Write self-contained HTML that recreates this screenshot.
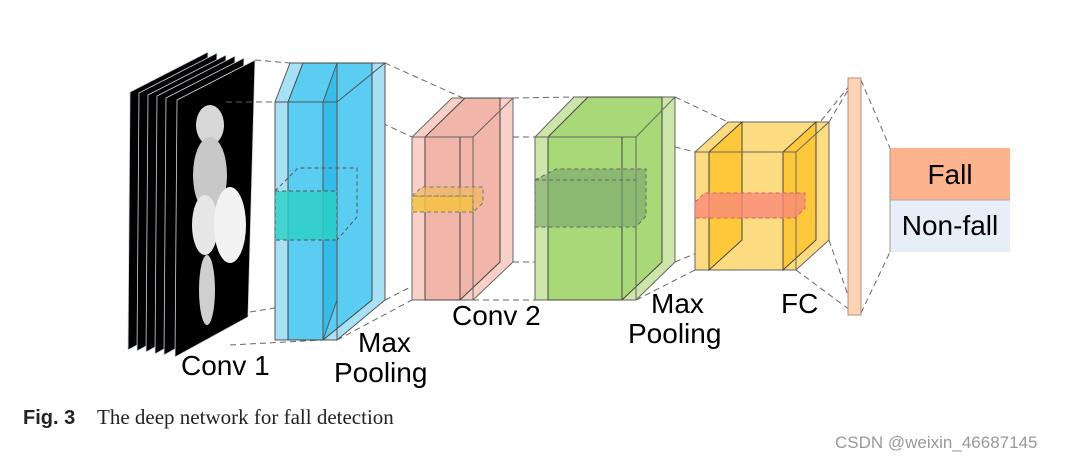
<!DOCTYPE html>
<html><head><meta charset="utf-8"><style>
html,body{margin:0;padding:0;background:#fff;width:1081px;height:462px;overflow:hidden}
svg{display:block}
text{font-family:"Liberation Sans",Arial,sans-serif}
</style></head><body>
<svg width="1081" height="462" viewBox="0 0 1081 462" xmlns="http://www.w3.org/2000/svg">
<defs>
<radialGradient id="g" cx="0.5" cy="0.5" r="0.5"><stop offset="0" stop-color="#eee"/><stop offset="1" stop-color="#bbb"/></radialGradient>
</defs>
<!-- image stack -->
<g stroke="#cfd8e0" stroke-width="0.8">
<polygon points="130,92 208,52 201,310 128,350" fill="#000"/>
<polygon points="139,93 217,53 210,311 137,351" fill="#000"/>
<polygon points="148,95 226,55 219,312 146,352" fill="#000"/>
<polygon points="157,96 235,56 228,313 155,354" fill="#000"/>
<polygon points="166,98 244,58 237,315 164,355" fill="#000"/>
<polygon points="177,100 255,60 248,317 175,357" fill="#000"/>
</g>
<g fill="#d8d8d8">
<ellipse cx="210" cy="125" rx="14" ry="20"/>
<ellipse cx="210" cy="175" rx="17" ry="38" fill="#c8c8c8"/>
<ellipse cx="205" cy="225" rx="13" ry="30" fill="#e6e6e6"/>
<ellipse cx="230" cy="225" rx="16" ry="38" fill="#f2f2f2"/>
<ellipse cx="207" cy="290" rx="8" ry="35" fill="#cfcfcf"/>
</g>
<!-- dashed connectors -->
<g stroke="#666" stroke-width="1" stroke-dasharray="6,4" fill="none">
<line x1="255" y1="60" x2="290" y2="63"/>
<line x1="226" y1="102" x2="275" y2="102"/>
<line x1="250" y1="312" x2="323" y2="300"/>
<line x1="230" y1="345" x2="323" y2="340"/>
<line x1="385" y1="63" x2="463" y2="98"/>
<line x1="337" y1="102" x2="412" y2="137"/>
<line x1="337" y1="340" x2="412" y2="300"/>
<line x1="385" y1="300" x2="460" y2="262"/>
<line x1="513" y1="98" x2="574" y2="97"/>
<line x1="473" y1="137" x2="535" y2="137"/>
<line x1="473" y1="300" x2="535" y2="300"/>
<line x1="513" y1="262" x2="574" y2="262"/>
<line x1="675" y1="97" x2="728" y2="122"/>
<line x1="636" y1="137" x2="695" y2="152"/>
<line x1="636" y1="300" x2="695" y2="270"/>
<line x1="675" y1="262" x2="728" y2="240"/>
<line x1="829" y1="122" x2="854" y2="80"/>
<line x1="796" y1="152" x2="854" y2="80"/>
<line x1="796" y1="270" x2="854" y2="313"/>
<line x1="829" y1="240" x2="854" y2="313"/>
<line x1="861" y1="80" x2="890" y2="148"/>
<line x1="861" y1="313" x2="890" y2="252"/>
</g>
<!-- Blue block -->
<g stroke="#555" stroke-width="1">
<polygon points="275,102 290,63 385,63 385,300 337,340 275,340" fill="#a8e0f6"/>
<polygon points="288,102 303,63 372,63 372,300 323,340 288,340" fill="#5bcdf2" stroke="#444"/>
<polygon points="323,102 337,63 337,300 323,340" fill="#35bde9"/>
<line x1="275" y1="102" x2="337" y2="102"/>
<line x1="337" y1="102" x2="385" y2="63"/>
<line x1="337" y1="102" x2="337" y2="340"/>
</g>
<g stroke="#555" stroke-dasharray="4,3" fill="none">
<polygon points="275,191 337,191 337,240 275,240" fill="#2acfc4" fill-opacity="0.8"/>
<polyline points="275,191 298,168 357,168 357,217 337,240"/>
</g>
<!-- Pink block -->
<g stroke="#666" stroke-width="1">
<polygon points="412,137 452,98 513,98 513,262 473,300 412,300" fill="#f9d0c8"/>
<polygon points="425,137 465,98 500,98 500,262 460,300 425,300" fill="#f2b5a9" stroke="#444"/>
<line x1="412" y1="137" x2="473" y2="137"/>
<line x1="473" y1="137" x2="513" y2="98"/>
<line x1="473" y1="137" x2="473" y2="300"/>
<line x1="460" y1="137" x2="460" y2="300" stroke="#444"/>
</g>
<g stroke="#777" stroke-dasharray="4,3">
<polygon points="412,196 473,196 473,212 412,212" fill="#f5c242" fill-opacity="0.85"/>
<polygon points="412,196 422,187 483,187 483,203 473,212 473,196" fill="#f0b860" fill-opacity="0.7"/>
</g>
<!-- Green block -->
<g stroke="#666" stroke-width="1">
<polygon points="535,137 574,97 675,97 675,262 636,300 535,300" fill="#cbe6a8"/>
<polygon points="548,137 588,97 662,97 662,262 622,300 548,300" fill="#a8d878" stroke="#444"/>
<line x1="535" y1="137" x2="636" y2="137"/>
<line x1="636" y1="137" x2="675" y2="97"/>
<line x1="636" y1="137" x2="636" y2="300"/>
<line x1="622" y1="137" x2="622" y2="300" stroke="#444"/>
</g>
<g stroke="#666" stroke-dasharray="4,3">
<polygon points="535,180 556,169 646,169 646,216 636,227 535,227" fill="#7aa56c" fill-opacity="0.6"/>
<line x1="535" y1="180" x2="636" y2="180" fill="none"/>
</g>
<!-- Yellow block -->
<g stroke="#666" stroke-width="1">
<polygon points="695,152 728,122 829,122 829,240 796,270 695,270" fill="#fddb80"/>
<polygon points="709,152 742,122 742,240 709,270" fill="#fdc93a" stroke="#444"/>
<polygon points="783,152 816,122 816,240 783,270" fill="#fdc93a" stroke="#444"/>
<line x1="695" y1="152" x2="796" y2="152"/>
<line x1="796" y1="152" x2="829" y2="122"/>
<line x1="796" y1="152" x2="796" y2="270"/>
</g>
<g stroke="#c66" stroke-dasharray="4,3">
<polygon points="695,202 705,193 805,193 805,208 795,218 695,218" fill="#f98a78" fill-opacity="0.8"/>
</g>
<!-- FC bar -->
<rect x="848" y="78" width="13" height="237" fill="#fcd4b4" stroke="#b88" stroke-width="1"/>
<!-- Output -->
<rect x="890" y="148" width="120" height="52" fill="#fdb48e"/>
<rect x="890" y="200" width="120" height="52" fill="#e8eef7"/>
<line x1="890" y1="148" x2="890" y2="252" stroke="#999"/>
<line x1="890" y1="200" x2="1010" y2="200" stroke="#aaa"/>
<text x="950" y="184" font-size="28" text-anchor="middle">Fall</text>
<text x="950" y="235" font-size="28" text-anchor="middle">Non-fall</text>
<!-- labels -->
<g font-size="28" fill="#000">
<text x="181" y="375">Conv 1</text>
<text x="358" y="352">Max</text>
<text x="334" y="382">Pooling</text>
<text x="452" y="325">Conv 2</text>
<text x="651" y="313">Max</text>
<text x="628" y="343">Pooling</text>
<text x="781" y="313">FC</text>
</g>
<text x="23" y="424" font-size="20" font-weight="bold" fill="#222">Fig. 3</text>
<text x="97" y="424" font-size="21" fill="#222" font-family="Liberation Serif,serif" style="font-family:'Liberation Serif',serif">The deep network for fall detection</text>
<text x="835" y="448" font-size="17" fill="#999">CSDN @weixin_46687145</text>
</svg>
</body></html>
